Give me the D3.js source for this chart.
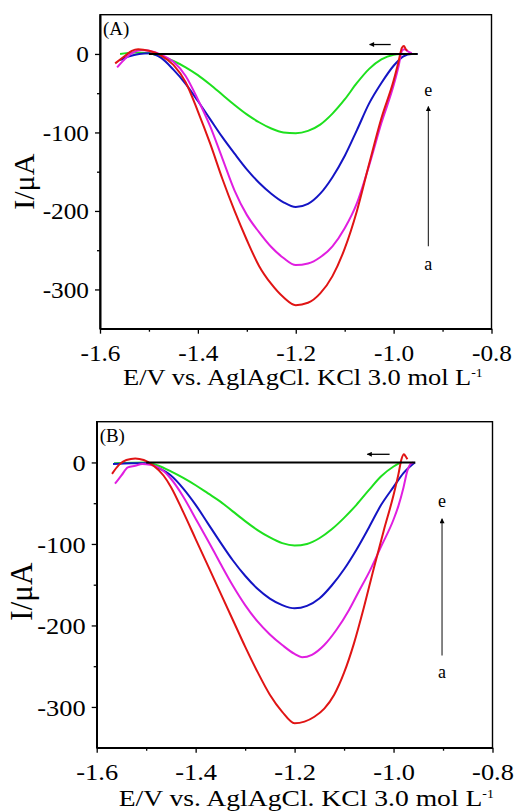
<!DOCTYPE html>
<html>
<head>
<meta charset="utf-8">
<script src="https://cdn.jsdelivr.net/npm/d3@7"></script>
<style>
body { margin: 0; background: #fff; }
text { font-family: "Liberation Serif", "Times New Roman", serif; fill: #000; }
</style>
</head>
<body>
<div id="chart"></div>
<script>
// axis values
var xTicks = [-1.6, -1.4, -1.2, -1.0, -0.8];
var xMinor = [-1.5, -1.3, -1.1, -0.9];
var yTicks = [0, -100, -200, -300];
var yMinor = [-50, -150, -250];
var curveNames = ["a", "b", "c", "d", "e"];

// panel A curves, [E (V), I (uA)]
var aBlack = [[-1.50, 0], [-0.951, 0]];
var aGreen = [[-1.559, 0], [-1.53, 2], [-1.50, 1], [-1.475, -3], [-1.45, -9], [-1.425, -17], [-1.40, -27],
  [-1.375, -39], [-1.35, -52], [-1.325, -65], [-1.30, -77], [-1.275, -87], [-1.25, -95], [-1.225, -100],
  [-1.20, -101], [-1.175, -98], [-1.15, -90], [-1.125, -76], [-1.10, -58], [-1.075, -37], [-1.05, -19],
  [-1.025, -7], [-1.0, -1], [-0.985, 0]];
var aBlue = [[-1.559, -8], [-1.54, -3], [-1.52, 0], [-1.50, 1], [-1.475, -5], [-1.45, -20], [-1.425, -38],
  [-1.40, -60], [-1.375, -83], [-1.35, -106], [-1.325, -127], [-1.30, -147], [-1.275, -164], [-1.25, -178],
  [-1.225, -189], [-1.20, -195], [-1.175, -191], [-1.15, -178], [-1.125, -157], [-1.10, -130], [-1.075, -97],
  [-1.05, -63], [-1.025, -37], [-1.0, -15], [-0.98, -3], [-0.963, 0], [-0.951, 0]];
var aMagenta = [[-1.565, -17], [-1.55, -7], [-1.535, 1], [-1.515, 5], [-1.50, 4], [-1.475, -1], [-1.45, -10],
  [-1.425, -28], [-1.40, -58], [-1.375, -92], [-1.35, -133], [-1.325, -174], [-1.30, -205], [-1.275, -227],
  [-1.25, -246], [-1.225, -260], [-1.20, -269], [-1.175, -267], [-1.15, -259], [-1.125, -245], [-1.10, -222],
  [-1.075, -190], [-1.05, -142], [-1.025, -88], [-1.0, -40], [-0.99, -16], [-0.983, 4], [-0.978, 6],
  [-0.97, 3], [-0.963, 1]];
var aRed = [[-1.569, -12], [-1.55, -3], [-1.535, 4], [-1.522, 6], [-1.50, 4], [-1.475, -2], [-1.45, -14],
  [-1.425, -36], [-1.40, -73], [-1.375, -114], [-1.35, -159], [-1.325, -200], [-1.30, -237], [-1.275, -270],
  [-1.25, -293], [-1.225, -310], [-1.20, -320], [-1.175, -317], [-1.15, -305], [-1.125, -283], [-1.10, -248],
  [-1.075, -200], [-1.05, -140], [-1.025, -82], [-1.0, -34], [-0.99, -10], [-0.983, 8], [-0.979, 10],
  [-0.975, 6], [-0.972, 4]];

// panel B curves
var bBlack = [[-1.50, 0], [-0.956, 0]];
var bGreen = [[-1.565, -1], [-1.50, 0], [-1.475, -4], [-1.45, -11], [-1.425, -19], [-1.40, -28], [-1.375, -38],
  [-1.35, -48], [-1.325, -60], [-1.30, -72], [-1.275, -83], [-1.25, -92], [-1.225, -99], [-1.20, -102],
  [-1.175, -100], [-1.15, -93], [-1.125, -82], [-1.10, -68], [-1.075, -52], [-1.05, -34], [-1.025, -17],
  [-1.0, -5], [-0.985, 0]];
var bBlue = [[-1.567, -2], [-1.53, -1], [-1.50, -1], [-1.475, -7], [-1.45, -16], [-1.425, -32], [-1.40, -52],
  [-1.375, -75], [-1.35, -98], [-1.325, -120], [-1.30, -139], [-1.275, -155], [-1.25, -167], [-1.225, -175],
  [-1.20, -179], [-1.175, -176], [-1.15, -167], [-1.125, -151], [-1.10, -131], [-1.075, -107], [-1.05, -80],
  [-1.025, -52], [-1.0, -30], [-0.98, -13], [-0.957, 0]];
var bMagenta = [[-1.563, -26], [-1.55, -16], [-1.537, -6], [-1.522, -4], [-1.508, -2], [-1.492, -3],
  [-1.47, -8], [-1.45, -20], [-1.425, -42], [-1.40, -69], [-1.375, -96], [-1.35, -124], [-1.325, -151],
  [-1.30, -175], [-1.275, -195], [-1.25, -211], [-1.225, -224], [-1.20, -235], [-1.185, -239], [-1.165, -236],
  [-1.14, -224], [-1.115, -205], [-1.09, -181], [-1.07, -158], [-1.048, -133], [-1.025, -103], [-1.0, -70],
  [-0.99, -53], [-0.98, -31], [-0.972, -10], [-0.966, -2], [-0.96, 0]];
var bRed = [[-1.569, -14], [-1.555, -3], [-1.54, 3], [-1.522, 5], [-1.505, 3], [-1.485, -4], [-1.465, -16],
  [-1.45, -30], [-1.425, -61], [-1.40, -94], [-1.375, -127], [-1.35, -160], [-1.325, -193], [-1.30, -226],
  [-1.275, -257], [-1.25, -285], [-1.225, -306], [-1.20, -320], [-1.18, -318], [-1.16, -312], [-1.14, -302],
  [-1.12, -285], [-1.10, -258], [-1.08, -222], [-1.06, -178], [-1.04, -130], [-1.02, -84], [-1.0, -40],
  [-0.99, -14], [-0.984, 4], [-0.979, 10], [-0.975, 7], [-0.972, 4]];

var W = 514, H = 812;
var sx = 1.1; // text is a little wider than the font

var svg = d3.select("#chart").append("svg")
    .attr("width", W)
    .attr("height", H);

var defs = svg.append("defs");
defs.append("marker")
    .attr("id", "head")
    .attr("viewBox", "0 0 10 10")
    .attr("refX", 9).attr("refY", 5)
    .attr("markerWidth", 7).attr("markerHeight", 5)
    .attr("markerUnits", "userSpaceOnUse")
    .attr("orient", "auto")
    .append("path")
    .attr("d", "M0,0L10,5L0,10Z")
    .attr("fill", "#000");

var drawPanel = function (p) {
    var w = p.right - p.left, h = p.bottom - p.top;
    var x = d3.scaleLinear().domain([-1.6, -0.8]).range([0, w]);
    var y = d3.scaleLinear().domain([-350, 50]).range([h, 0]);
    var g = svg.append("g").attr("transform", "translate(" + p.left + "," + p.top + ")");

    //frame
    g.append("rect")
        .attr("width", w).attr("height", h)
        .attr("fill", "none").attr("stroke", "#000").attr("stroke-width", 1.4);

    //curves
    var line = d3.line()
        .x(function (d) { return x(d[0]); })
        .y(function (d) { return y(d[1]); })
        .curve(d3.curveMonotoneX);
    var series = [
        { data: p.green, color: "#1ee01e" },
        { data: p.blue, color: "#1414c4" },
        { data: p.magenta, color: "#e01ee0" },
        { data: p.red, color: "#e01414" },
        { data: p.black, color: "#000" }
    ];
    series.forEach(function (s) {
        g.append("path")
            .attr("d", line(s.data))
            .attr("fill", "none")
            .attr("stroke", s.color)
            .attr("stroke-width", 2);
    });

    //axes
    var yAxis = g.append("g")
        .call(d3.axisLeft(y).tickValues(yTicks).tickSize(5).tickSizeOuter(0).tickFormat(function (d) { return String(d); }));
    var xAxis = g.append("g")
        .attr("transform", "translate(0," + h + ")")
        .call(d3.axisBottom(x).tickValues(xTicks).tickSize(5).tickSizeOuter(0).tickFormat(function (d) { return d.toFixed(1); }));
    g.append("g")
        .call(d3.axisLeft(y).tickValues(yMinor).tickSize(3).tickSizeOuter(0).tickFormat(""));
    g.append("g")
        .attr("transform", "translate(0," + h + ")")
        .call(d3.axisBottom(x).tickValues(xMinor).tickSize(3).tickSizeOuter(0).tickFormat(""));
    g.selectAll(".domain").attr("stroke-width", 1.6);
    g.selectAll(".tick line").attr("stroke-width", 1.3);

    yAxis.selectAll("text")
        .attr("font-family", "Liberation Serif")
        .attr("font-size", p.tickSize)
        .attr("transform", "scale(" + sx + ",1)")
        .attr("x", -p.yPad / sx)
        .attr("dy", "0.34em");
    xAxis.selectAll("text")
        .attr("font-family", "Liberation Serif")
        .attr("font-size", p.tickSize)
        .attr("transform", "scale(" + sx + ",1)")
        .attr("y", p.xPad)
        .attr("dy", 0);

    //axis titles
    var xt = g.append("text")
        .attr("transform", "translate(" + p.xTitleX + "," + (h + p.xTitleY) + ") scale(" + p.titleSx + ",1)")
        .attr("font-size", p.titleSize);
    xt.append("tspan").text("E/V vs. AglAgCl. KCl 3.0 mol L");
    xt.append("tspan").attr("font-size", 12).attr("dy", -8).text("-1");

    g.append("text")
        .attr("transform", "translate(" + p.yTitleX + "," + p.yTitleY + ") rotate(-90)")
        .attr("text-anchor", "middle")
        .attr("font-size", p.yTitleSize)
        .text("I/\u03bcA");

    //panel tag
    g.append("text")
        .attr("transform", "translate(3,20) scale(1.05,1)")
        .attr("font-size", 18)
        .text(p.tag);

    //scan direction arrow
    g.append("line")
        .attr("x1", x(p.scan[1])).attr("x2", x(p.scan[0]))
        .attr("y1", y(p.scanY)).attr("y2", y(p.scanY))
        .attr("stroke", "#000").attr("stroke-width", 1.3)
        .attr("marker-end", "url(#head)");

    //a -> e arrow
    g.append("line")
        .attr("x1", x(p.trendE)).attr("x2", x(p.trendE))
        .attr("y1", y(p.trend[0])).attr("y2", y(p.trend[1]))
        .attr("stroke", "#333").attr("stroke-width", 1.2)
        .attr("marker-end", "url(#head)");
    g.append("text")
        .attr("x", x(p.trendE)).attr("y", y(p.trendLabelY[1]))
        .attr("text-anchor", "middle").attr("font-size", 18)
        .text(curveNames[4]);
    g.append("text")
        .attr("x", x(p.trendE)).attr("y", y(p.trendLabelY[0]))
        .attr("text-anchor", "middle").attr("font-size", 18)
        .text(curveNames[0]);
}

drawPanel({
    left: 100, right: 491.5, top: 14.7, bottom: 328.7, tag: "(A)",
    black: aBlack, green: aGreen, blue: aBlue, magenta: aMagenta, red: aRed,
    tickSize: 23, yPad: 11, xPad: 32, titleSize: 23, titleSx: 1.15,
    xTitleX: 23, xTitleY: 56, yTitleX: -66, yTitleY: 167, yTitleSize: 30,
    scan: [-1.049, -1.006], scanY: 12,
    trendE: -0.929, trend: [-245, -67], trendLabelY: [-275, -53]
});

drawPanel({
    left: 96.7, right: 492.5, top: 421.7, bottom: 747.7, tag: "(B)",
    black: bBlack, green: bGreen, blue: bBlue, magenta: bMagenta, red: bRed,
    tickSize: 24, yPad: 11, xPad: 32, titleSize: 24, titleSx: 1.15,
    xTitleX: 22, xTitleY: 58, yTitleX: -65, yTitleY: 170, yTitleSize: 31,
    scan: [-1.053, -1.008], scanY: 10,
    trendE: -0.902, trend: [-237, -69], trendLabelY: [-264, -55]
});
</script>
</body>
</html>
